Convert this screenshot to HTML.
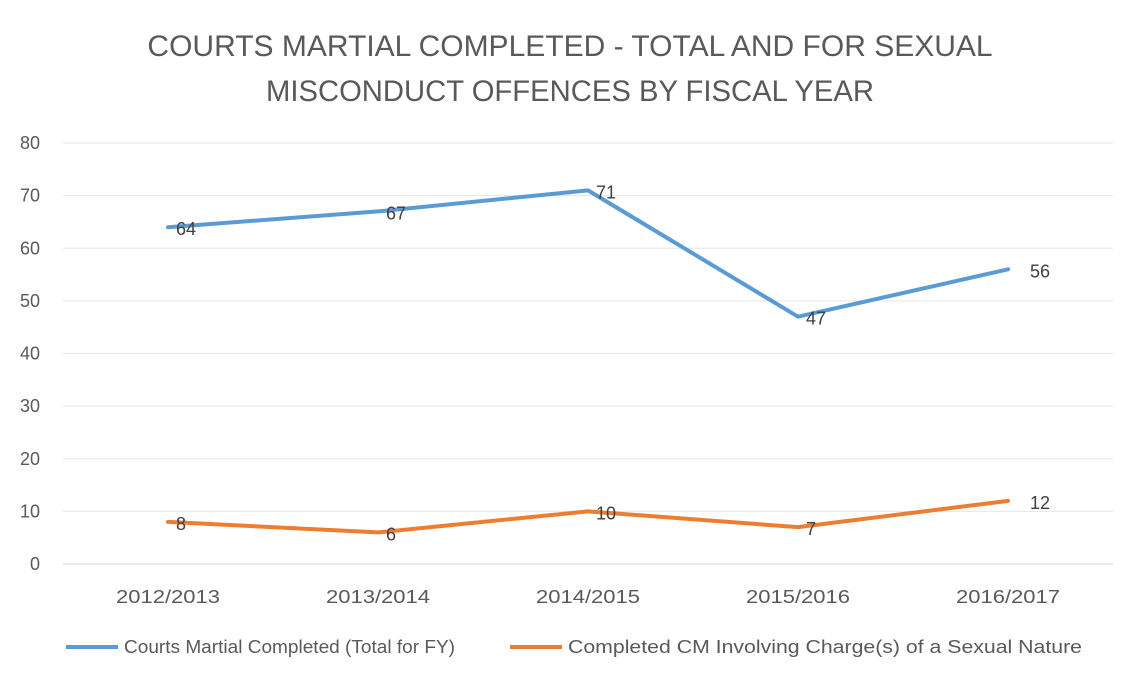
<!DOCTYPE html>
<html><head><meta charset="utf-8">
<style>
html,body{margin:0;padding:0;background:#fff;}
svg{display:block;font-family:"Liberation Sans",sans-serif;}
</style></head>
<body>
<svg id="chart" width="1140" height="686" viewBox="0 0 1140 686">
<text x="570" y="56" text-anchor="middle" font-size="30" fill="#595959">COURTS MARTIAL COMPLETED - TOTAL AND FOR SEXUAL</text>
<text x="570" y="101" text-anchor="middle" font-size="30" fill="#595959" textLength="608" lengthAdjust="spacingAndGlyphs">MISCONDUCT OFFENCES BY FISCAL YEAR</text>
<g id="grid"></g><g id="series"></g>
<g>
<line x1="66" y1="647" x2="118" y2="647" stroke="#5b9bd5" stroke-width="4"/>
<text x="124" y="653" font-size="18" fill="#595959" textLength="331" lengthAdjust="spacingAndGlyphs">Courts Martial Completed (Total for FY)</text>
<line x1="510" y1="647" x2="562" y2="647" stroke="#ed7d31" stroke-width="4"/>
<text x="568" y="653" font-size="18" fill="#595959" textLength="514" lengthAdjust="spacingAndGlyphs">Completed CM Involving Charge(s) of a Sexual Nature</text>
</g>
</svg>
<script>
const categories=["2012/2013","2013/2014","2014/2015","2015/2016","2016/2017"];
const totalValues=[64,67,71,47,56];
const sexualValues=[8,6,10,7,12];
const yTicks=[0,10,20,30,40,50,60,70,80];
const NS="http://www.w3.org/2000/svg";
const x0=63,x1=1113,yTop=143,yBot=564,yMax=80;
function xScale(i){return x0+(x1-x0)/categories.length*(i+0.5);}
function yScale(v){return yBot-(v/yMax)*(yBot-yTop);}
function mk(tag,attrs,parent){const e=document.createElementNS(NS,tag);for(const k in attrs)e.setAttribute(k,attrs[k]);parent.appendChild(e);return e;}
const grid=document.getElementById('grid');
yTicks.forEach(t=>{
  const l=mk('line',{x1:x0,x2:x1,y1:yScale(t),y2:yScale(t),stroke:t===0?'#d9d9d9':'#e6e6e6','stroke-width':1},grid);
  
  
  const tx=mk('text',{x:40,y:yScale(t)+6,'text-anchor':'end','font-size':18,fill:'#595959'},grid);
  tx.textContent=t;
  
  
});
categories.forEach((c,i)=>{
  const tx=mk('text',{x:xScale(i)-52,y:603,'font-size':18,fill:'#595959',textLength:104,lengthAdjust:'spacingAndGlyphs'},grid);
  tx.textContent=c;
  
  
});
const sg=document.getElementById('series');
function drawSeries(vals,color,name){
  const pts=vals.map((v,i)=>xScale(i)+','+yScale(v)).join(' ');
  const pl=mk('polyline',{points:pts,fill:'none',stroke:color,'stroke-width':4,'stroke-linejoin':'round','stroke-linecap':'round'},sg);
  
  
  vals.forEach((v,i)=>{
    const dx=i===vals.length-1?22:8;
    const t=mk('text',{x:xScale(i)+dx,y:yScale(v)+8,'font-size':18,fill:'#404040'},sg);
    t.textContent=v;
    
    
  });
}
drawSeries(totalValues,'#5b9bd5','total');
drawSeries(sexualValues,'#ed7d31','sexual');
</script>
</body></html>
